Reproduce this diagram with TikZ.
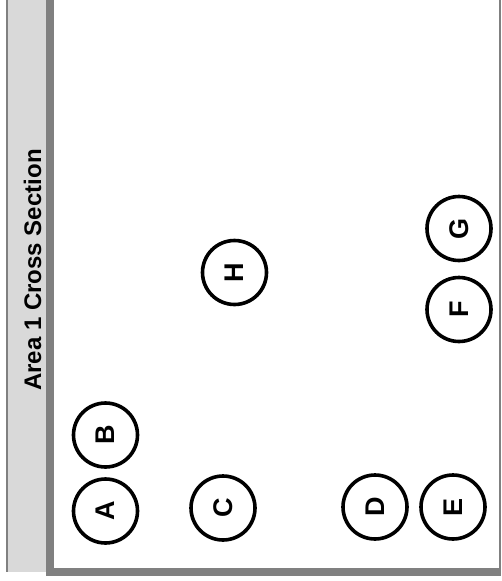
\documentclass[tikz,border=0pt]{standalone}
\usepackage{fontspec}
\setmainfont{Liberation Sans}
\usepackage{tikz}
\definecolor{bandgray}{HTML}{D9D9D9}
\definecolor{edgegray}{HTML}{808080}

\begin{document}
\begin{tikzpicture}[
  x=1pt,y=-1pt,
  every node/.style={font=\bfseries\fontsize{24}{28}\selectfont},
  site/.style={draw,circle,line width=3.6pt,minimum size=64pt,inner sep=0pt,
               rotate=90,font=\bfseries\fontsize{27}{30}\selectfont},
  heading/.style={rotate=90,anchor=base,inner sep=0pt}
]
\useasboundingbox (0,0) rectangle (501,581);
% frame and title band
\fill[bandgray] (6,0) rectangle (46,572);
\fill[edgegray] (6,0) rectangle (8,572);
\fill[edgegray] (46,0) rectangle (54,576);
\fill[edgegray] (46,568) rectangle (501,576);
\fill[edgegray] (499,0) rectangle (501,576);
\node[heading] (title) at (41,270) {Area 1 Cross Section};
% sites
\node[site] (A) at (105.5,511) {A};
\node[site] (B) at (105.5,435) {B};
\node[site] (C) at (223,508) {C};
\node[site] (D) at (375,507) {D};
\node[site] (E) at (453,507) {E};
\node[site] (F) at (459,309.5) {F};
\node[site] (G) at (459,228.5) {G};
\node[site] (H) at (234.5,272.5) {H};
\end{tikzpicture}
\end{document}
